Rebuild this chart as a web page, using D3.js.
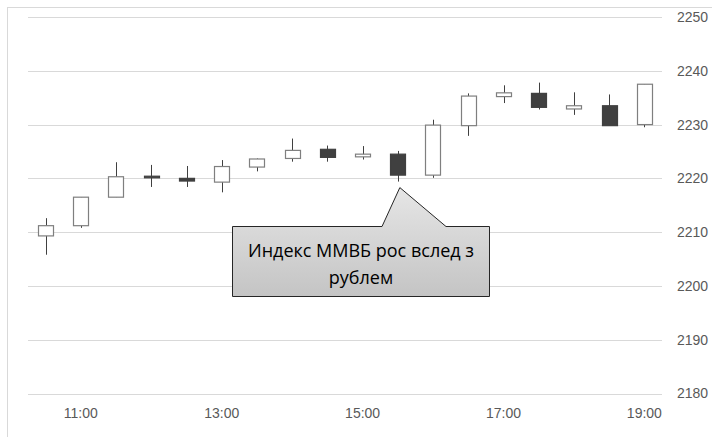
<!DOCTYPE html>
<meta charset="utf-8">
<style>
body { margin: 0; background: #fff; }
.grid line { stroke: #d9d9d9; stroke-width: 1; }
.axis text { font-family: "Liberation Sans", Arial, sans-serif; font-size: 14px; fill: #595959; }
.note { font-family: "Open Sans", "Noto Sans", sans-serif; font-size: 18px; fill: #000; }
</style>
<svg width="712" height="437"></svg>
<script src="https://cdn.jsdelivr.net/npm/d3@7"></script>
<script>

var svg = d3.select("svg"),
    width = +svg.attr("width"),
    height = +svg.attr("height");

// half-hour bars
var times = ["10:30","11:00","11:30","12:00","12:30","13:00","13:30","14:00","14:30",
             "15:00","15:30","16:00","16:30","17:00","17:30","18:00","18:30","19:00"];
var open  = [2209.3, 2211.2, 2216.5, 2220.4, 2220.0, 2219.3, 2222.1, 2223.7, 2225.4,
             2224.0, 2224.5, 2220.6, 2229.8, 2235.2, 2235.8, 2232.9, 2233.5, 2230.0];
var close = [2211.2, 2216.5, 2220.3, 2220.1, 2219.5, 2222.2, 2223.6, 2225.2, 2223.9,
             2224.5, 2220.6, 2229.9, 2235.3, 2235.9, 2233.2, 2233.5, 2229.8, 2237.5];
var high  = [2212.6, 2216.5, 2223.0, 2222.5, 2222.3, 2223.4, 2223.7, 2227.4, 2226.1,
             2226.0, 2225.1, 2230.9, 2235.8, 2237.3, 2237.8, 2236.0, 2235.6, 2237.5];
var low   = [2205.8, 2210.8, 2216.5, 2218.4, 2218.4, 2217.4, 2221.3, 2223.1, 2223.1,
             2223.5, 2219.4, 2220.1, 2227.9, 2234.0, 2232.8, 2231.8, 2229.8, 2229.5];
var yTicks = [2180, 2190, 2200, 2210, 2220, 2230, 2240, 2250];
var xLabels = ["11:00", "13:00", "15:00", "17:00", "19:00"];
var noteLines = ["Индекс ММВБ рос вслед з", "рублем"];

var plot = {left: 28, right: 662, top: 17, bottom: 393.5};

var x = d3.scaleBand().domain(times).range([plot.left, plot.right])
    .paddingInner(0.57).paddingOuter(0.285);
var y = d3.scaleLinear().domain([2180, 2250]).range([plot.bottom, plot.top]);

// chart border
svg.append("rect")
    .attr("x", 7.5).attr("y", 7.5)
    .attr("width", 720).attr("height", 440)
    .attr("fill", "none").attr("stroke", "#d9d9d9");

svg.append("g").attr("class", "grid")
  .selectAll("line").data(yTicks).enter().append("line")
    .attr("x1", plot.left).attr("x2", plot.right)
    .attr("y1", function(d){ return Math.round(y(d)) + 0.5; })
    .attr("y2", function(d){ return Math.round(y(d)) + 0.5; });

var yAxis = svg.append("g").attr("class", "axis")
    .attr("transform", "translate(" + (plot.right + 2) + ",0)")
    .call(d3.axisRight(y).tickValues(yTicks).tickSize(0).tickPadding(13).tickFormat(d3.format("d")));
yAxis.select(".domain").remove();

var xAxis = svg.append("g").attr("class", "axis")
    .attr("transform", "translate(0," + plot.bottom + ")")
    .call(d3.axisBottom(x).tickValues(xLabels).tickSize(0).tickPadding(15));
xAxis.select(".domain").remove();

var bars = times.map(function(t, i){
  return {t: t, o: open[i], c: close[i], h: high[i], l: low[i]};
});

var candle = svg.append("g").selectAll("g").data(bars).enter().append("g");

candle.append("line")
    .attr("x1", function(d){ return Math.round(x(d.t) + x.bandwidth() / 2) + 0.5; })
    .attr("x2", function(d){ return Math.round(x(d.t) + x.bandwidth() / 2) + 0.5; })
    .attr("y1", function(d){ return y(d.h); })
    .attr("y2", function(d){ return y(d.l); })
    .attr("stroke", "#404040").attr("stroke-width", 1);

candle.append("rect")
    .attr("x", function(d){ return Math.round(x(d.t)) + 0.5; })
    .attr("width", Math.round(x.bandwidth()))
    .attr("y", function(d){ return y(Math.max(d.o, d.c)); })
    .attr("height", function(d){ return Math.max(1, Math.abs(y(d.o) - y(d.c))); })
    .attr("fill", function(d){ return d.c >= d.o ? "#fff" : "#404040"; })
    .attr("stroke", function(d){ return d.c >= d.o ? "#7f7f7f" : "#404040"; })
    .attr("stroke-width", 1.2);

// callout pointing at the 15:30 bar
var grad = svg.append("defs").append("linearGradient")
    .attr("id", "callFill").attr("x1", 0).attr("x2", 0).attr("y1", 0).attr("y2", 1);
grad.append("stop").attr("offset", "0%").attr("stop-color", "#e6e6e6");
grad.append("stop").attr("offset", "100%").attr("stop-color", "#c4c4c4");

var bx0 = 232.5, bx1 = 489.5, by0 = 226.5, by1 = 296.5;
var tipX = x("15:30") + x.bandwidth() / 2 + 2, tipY = y(low[10]) + 6;
var pts = [[bx0, by0], [382, by0], [tipX, tipY], [446, by0], [bx1, by0], [bx1, by1], [bx0, by1]];

svg.append("path")
    .attr("d", d3.line()(pts) + "Z")
    .attr("fill", "url(#callFill)")
    .attr("stroke", "#262626").attr("stroke-width", 1);

svg.append("g").selectAll("text").data(noteLines).enter().append("text")
    .attr("class", "note")
    .attr("x", (bx0 + bx1) / 2)
    .attr("y", function(d, i){ return 257 + i * 27; })
    .attr("text-anchor", "middle")
    .text(function(d){ return d; });

</script>
